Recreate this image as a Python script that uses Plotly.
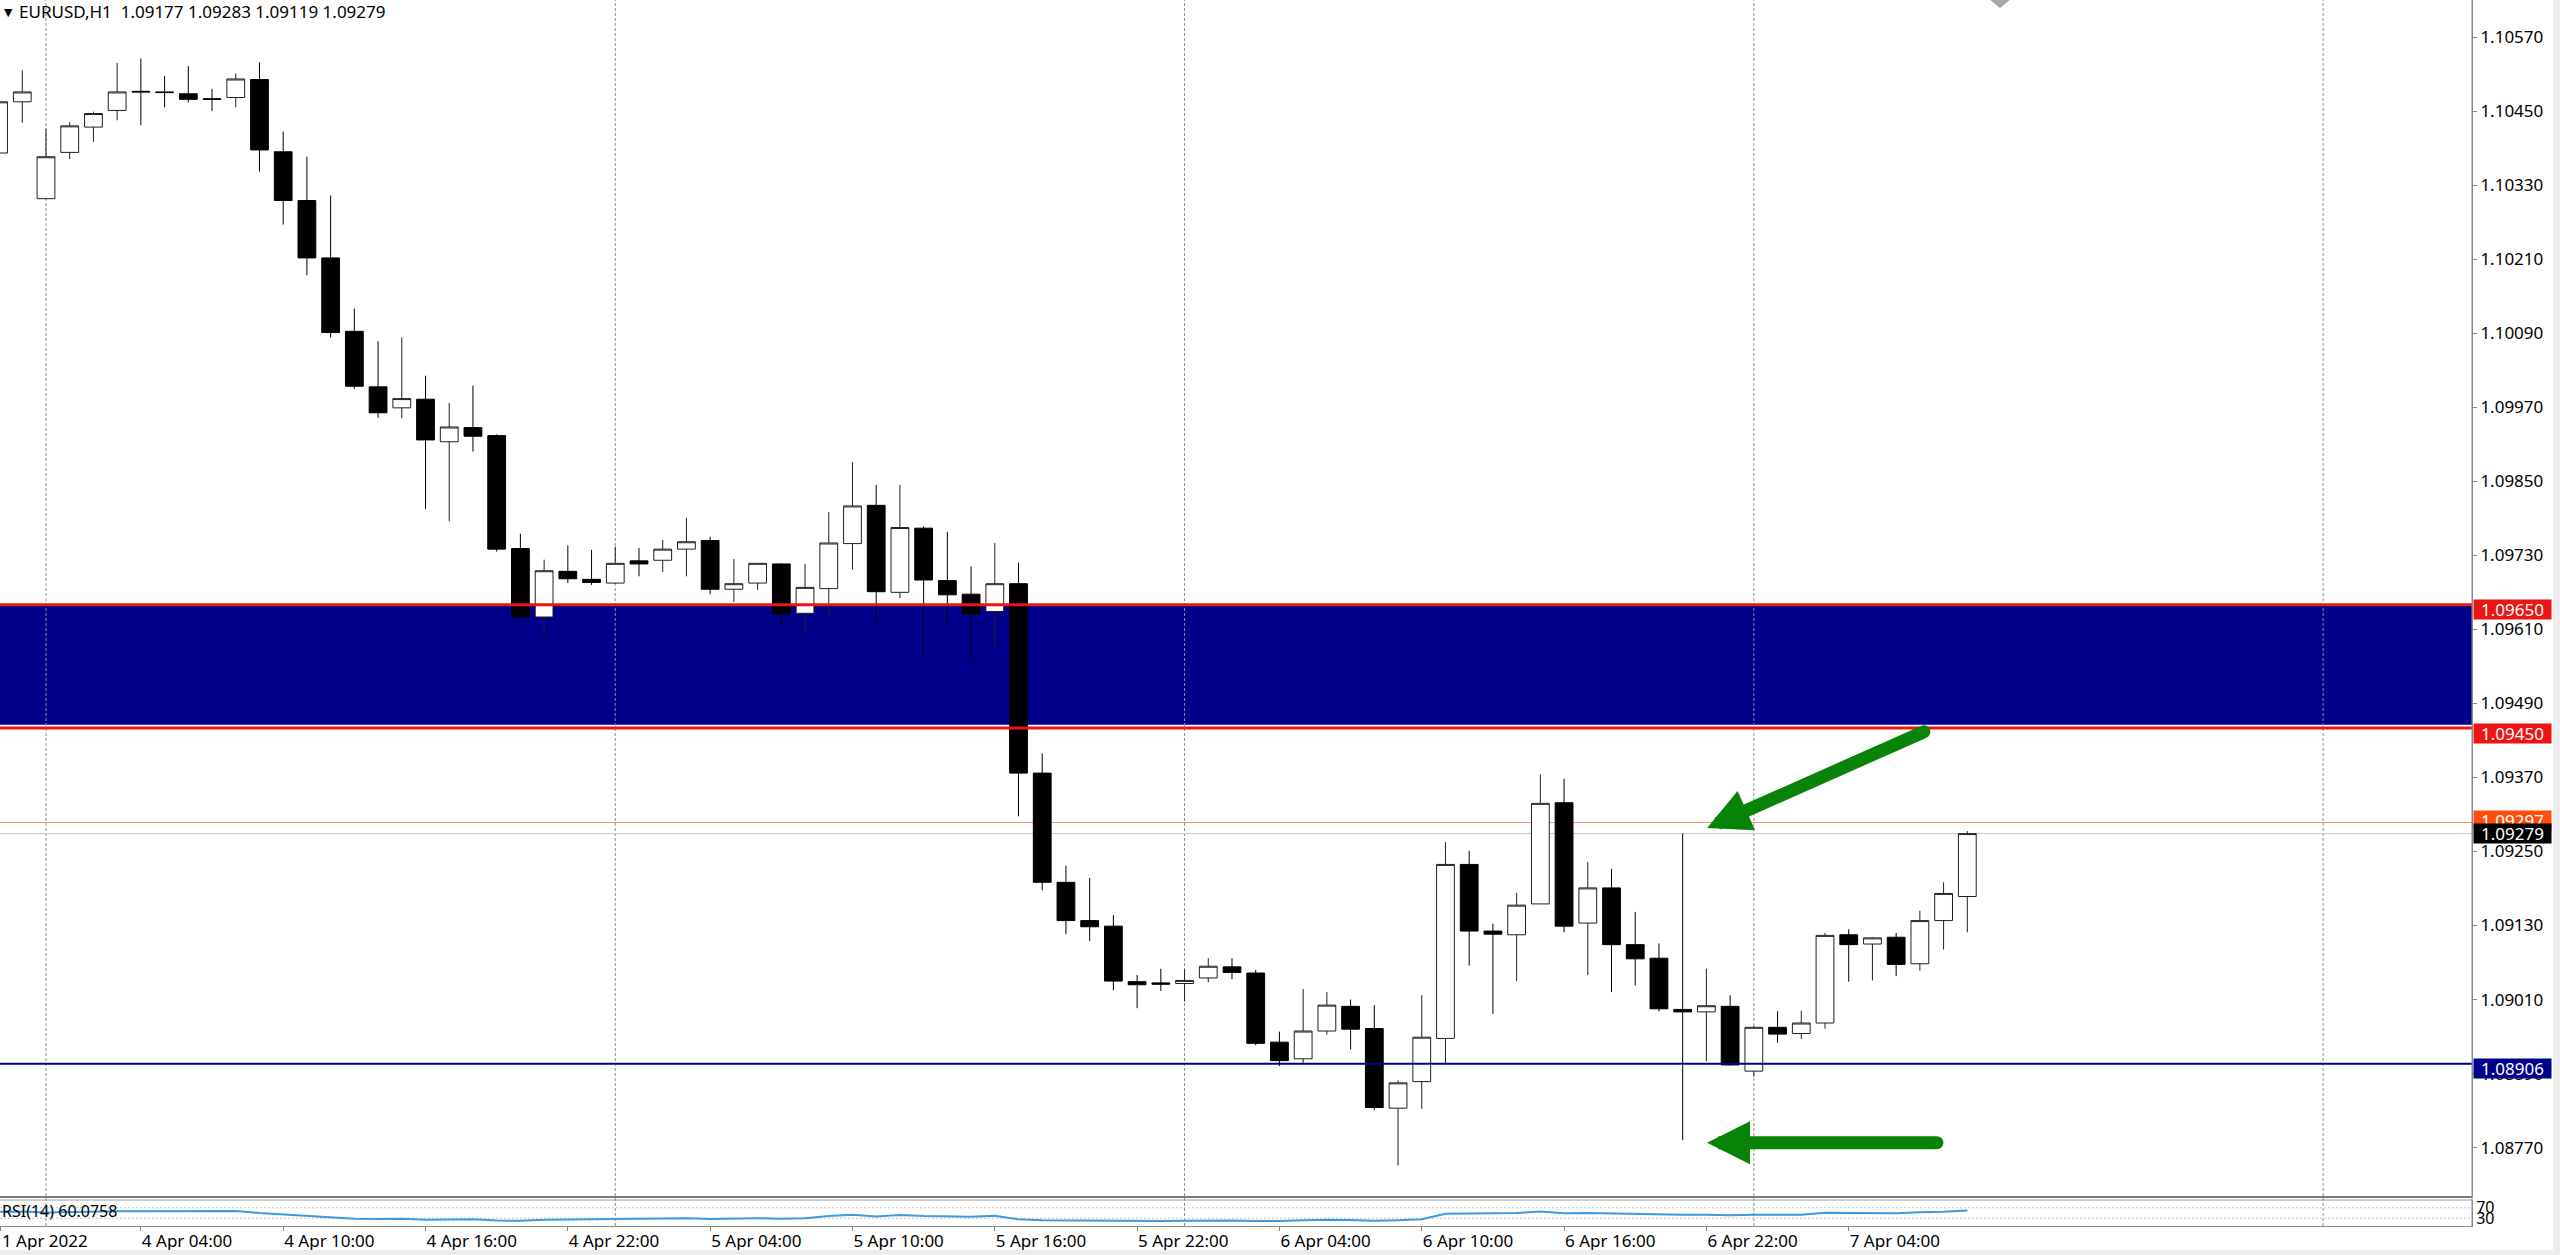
import plotly.graph_objects as go

# ---------------- data (EURUSD H1) ----------------
# bar positions are counted in hours from 4 Apr 2022 00:00 (first visible bar = -2)
first_bar = -2

opens = [1.10382, 1.10465, 1.10308, 1.10383, 1.10424, 1.10451, 1.10482, 1.10481, 1.10478, 1.10470,
         1.10472, 1.10501, 1.10384, 1.10305, 1.10212, 1.10093, 1.10003, 1.09969, 1.09983, 1.09914,
         1.09937, 1.09924, 1.09741, 1.09630, 1.09704, 1.09691, 1.09685, 1.09721, 1.09722, 1.09740,
         1.09754, 1.09675, 1.09685, 1.09716, 1.09636, 1.09676, 1.09749, 1.09811, 1.09670, 1.09774,
         1.09689, 1.09667, 1.09639, 1.09684, 1.09377, 1.09200, 1.09138, 1.09129, 1.09039, 1.09037,
         1.09036, 1.09045, 1.09063, 1.09053, 1.08941, 1.08914, 1.08959, 1.08999, 1.08963, 1.08834,
         1.08877, 1.08947, 1.09229, 1.09121, 1.09115, 1.09165, 1.09329, 1.09134, 1.09191, 1.09099,
         1.09077, 1.08994, 1.08990, 1.08999, 1.08894, 1.08965, 1.08955, 1.08972, 1.09115, 1.09100,
         1.09111, 1.09068, 1.09138, 1.09177]
highs = [1.10500, 1.10516, 1.10421, 1.10432, 1.10449, 1.10528, 1.10535, 1.10507, 1.10523, 1.10486,
         1.10511, 1.10529, 1.10417, 1.10376, 1.10313, 1.10130, 1.10077, 1.10083, 1.10021, 1.09977,
         1.10005, 1.09926, 1.09765, 1.09723, 1.09746, 1.09739, 1.09744, 1.09742, 1.09755, 1.09791,
         1.09760, 1.09724, 1.09717, 1.09717, 1.09716, 1.09800, 1.09881, 1.09844, 1.09844, 1.09777,
         1.09768, 1.09712, 1.09750, 1.09718, 1.09409, 1.09227, 1.09207, 1.09147, 1.09050, 1.09060,
         1.09059, 1.09077, 1.09077, 1.09058, 1.08958, 1.09027, 1.09022, 1.09010, 1.09001, 1.08879,
         1.09017, 1.09265, 1.09251, 1.09133, 1.09183, 1.09375, 1.09368, 1.09233, 1.09222, 1.09152,
         1.09101, 1.09279, 1.09060, 1.09017, 1.08967, 1.08991, 1.08992, 1.09118, 1.09124, 1.09111,
         1.09118, 1.09154, 1.09200, 1.09283]
lows = [1.10370, 1.10431, 1.10307, 1.10372, 1.10400, 1.10435, 1.10427, 1.10456, 1.10464, 1.10450,
        1.10456, 1.10352, 1.10266, 1.10184, 1.10083, 1.10000, 1.09953, 1.09952, 1.09805, 1.09785,
        1.09898, 1.09736, 1.09623, 1.09599, 1.09685, 1.09682, 1.09684, 1.09696, 1.09703, 1.09696,
        1.09667, 1.09654, 1.09674, 1.09615, 1.09604, 1.09631, 1.09707, 1.09620, 1.09661, 1.09561,
        1.09620, 1.09556, 1.09583, 1.09307, 1.09187, 1.09116, 1.09105, 1.09025, 1.08996, 1.09024,
        1.09007, 1.09038, 1.09043, 1.08936, 1.08902, 1.08906, 1.08953, 1.08929, 1.08831, 1.08741,
        1.08833, 1.08906, 1.09065, 1.08987, 1.09040, 1.09165, 1.09119, 1.09050, 1.09022, 1.09033,
        1.08991, 1.08782, 1.08910, 1.08903, 1.08885, 1.08940, 1.08946, 1.08963, 1.09039, 1.09041,
        1.09048, 1.09057, 1.09091, 1.09119]
closes = [1.10465, 1.10481, 1.10376, 1.10426, 1.10446, 1.10481, 1.10481, 1.10480, 1.10469, 1.10469,
          1.10502, 1.10387, 1.10305, 1.10212, 1.10091, 1.10004, 1.09961, 1.09984, 1.09917, 1.09938,
          1.09923, 1.09740, 1.09630, 1.09705, 1.09692, 1.09686, 1.09717, 1.09716, 1.09740, 1.09752,
          1.09675, 1.09684, 1.09717, 1.09635, 1.09678, 1.09750, 1.09810, 1.09671, 1.09775, 1.09690,
          1.09666, 1.09635, 1.09684, 1.09377, 1.09200, 1.09138, 1.09128, 1.09040, 1.09034, 1.09035,
          1.09041, 1.09064, 1.09054, 1.08939, 1.08911, 1.08959, 1.09001, 1.08962, 1.08835, 1.08875,
          1.08949, 1.09229, 1.09121, 1.09116, 1.09163, 1.09328, 1.09129, 1.09191, 1.09099, 1.09076,
          1.08995, 1.08990, 1.09000, 1.08904, 1.08965, 1.08954, 1.08972, 1.09114, 1.09099, 1.09110,
          1.09067, 1.09138, 1.09182, 1.09279]
rsi_values = [55, 56, 52, 54, 55, 57, 57, 57, 56, 56, 58,
              50, 44, 38, 32, 28,
              27, 28, 24, 26, 26,
              21, 20, 24,
              25, 25, 27, 28, 29, 30, 27, 28, 30, 28, 30,
              38, 43, 37, 42, 38, 37, 36, 39,
              26, 22, 21, 21, 19,
              19, 19, 20, 21, 21, 19, 19, 22, 24, 23,
              20, 22, 26,
              47, 48, 49, 50,
              56, 49,
              50, 48, 46, 43,
              43, 43, 41,
              43, 42, 43,
              51, 50, 51, 49, 53, 55, 60.08]

time_tick_pos = [-1.9, 4, 10, 16, 22, 28, 34, 40, 46, 52, 58, 64, 70, 76]
time_tick_text = ["1 Apr 2022", "4 Apr 04:00", "4 Apr 10:00", "4 Apr 16:00", "4 Apr 22:00",
                  "5 Apr 04:00", "5 Apr 10:00", "5 Apr 16:00", "5 Apr 22:00",
                  "6 Apr 04:00", "6 Apr 10:00", "6 Apr 16:00", "6 Apr 22:00", "7 Apr 04:00"]
day_separators = [0, 24, 48, 72, 96]
price_ticks = [1.08770, 1.08890, 1.09010, 1.09130, 1.09250, 1.09370, 1.09490, 1.09610,
               1.09730, 1.09850, 1.09970, 1.10090, 1.10210, 1.10330, 1.10450, 1.10570]
rsi_levels = [70, 30]
rsi_level_text = ["70", "30"]

zone_top = 1.09650
zone_bottom = 1.09450
support_level = 1.08906
ask_price = 1.09297
bid_price = 1.09279

header_text = "EURUSD,H1 \u00a01.09177 1.09283 1.09119 1.09279"
rsi_label = "RSI(14) 60.0758"

arrow_to_high = {"tip": (70.03, 1.09288), "tail": (79.17, 1.09444)}
arrow_to_low = {"tip": (70.03, 1.08778), "tail": (79.72, 1.08778)}

# ---------------- layout constants ----------------
W, H = 2560, 1255
ML, MR, MT, MB = 0, 88, 0, 29
PW, PH = W - ML - MR, H - MT - MB
MAIN_BOTTOM_PX = 1197
RSI_TOP_PX = 1200
FONT = "Noto Sans, DejaVu Sans, sans-serif"
GREEN = "#078307"
RED = "#ec1515"
NAVY = "#00008a"


def px_x(px):
    return px / PW


def px_y(py):
    return (PH - py) / PH


x_pos = [first_bar + k for k in range(len(opens))]

fig = go.Figure()
fig.add_trace(go.Candlestick(
    x=x_pos, open=opens, high=highs, low=lows, close=closes,
    xaxis="x", yaxis="y",
    increasing=dict(fillcolor="#ffffff", line=dict(color="#202020", width=1)),
    decreasing=dict(fillcolor="#000000", line=dict(color="#000000", width=1)),
    whiskerwidth=0, showlegend=False, hoverinfo="skip",
))
fig.add_trace(go.Scatter(
    x=x_pos, y=rsi_values, mode="lines", xaxis="x2", yaxis="y2",
    line=dict(color="#3d9ae2", width=2), showlegend=False, hoverinfo="skip",
))

shapes = []
# supply zone rectangle (background)
shapes.append(dict(type="rect", xref="paper", yref="y", x0=0, x1=1,
                   y0=zone_bottom + 0.000055, y1=zone_top,
                   fillcolor=NAVY, line=dict(width=0), layer="below"))
# day separators
for d in day_separators:
    shapes.append(dict(type="line", xref="x", yref="paper", x0=d, x1=d, y0=0, y1=1,
                       line=dict(color="#8c8c8c", width=1, dash="3px,2px"), layer="below"))
# ask / bid lines
shapes.append(dict(type="line", xref="paper", yref="y", x0=0, x1=1, y0=ask_price, y1=ask_price,
                   line=dict(color="#e89a78", width=1), layer="below"))
shapes.append(dict(type="line", xref="paper", yref="y", x0=0, x1=1, y0=bid_price, y1=bid_price,
                   line=dict(color="#c8c8c8", width=1), layer="below"))
# zone borders and support line
for lvl in (zone_top, zone_bottom):
    shapes.append(dict(type="line", xref="paper", yref="y", x0=0, x1=1, y0=lvl, y1=lvl,
                       line=dict(color=RED, width=3), layer="above"))
shapes.append(dict(type="line", xref="paper", yref="y", x0=0, x1=1, y0=support_level, y1=support_level,
                   line=dict(color=NAVY, width=2), layer="above"))
# RSI levels
for lvl in rsi_levels:
    shapes.append(dict(type="line", xref="paper", yref="y2", x0=0, x1=1, y0=lvl, y1=lvl,
                       line=dict(color="#c4c4c4", width=1, dash="2px,2px"), layer="below"))
# pane separator
shapes.append(dict(type="line", xref="paper", yref="paper", x0=0, x1=1,
                   y0=px_y(MAIN_BOTTOM_PX), y1=px_y(MAIN_BOTTOM_PX),
                   line=dict(color="#7a7a7a", width=2)))
shapes.append(dict(type="line", xref="paper", yref="paper", x0=0, x1=1,
                   y0=px_y(RSI_TOP_PX), y1=px_y(RSI_TOP_PX),
                   line=dict(color="#9a9a9a", width=1)))
# right price scale line (full height)
shapes.append(dict(type="line", xref="paper", yref="paper", x0=1, x1=1, y0=0, y1=1,
                   line=dict(color="#8a8a8a", width=1)))
# chart shift marker at top
shapes.append(dict(type="path", xref="paper", yref="paper",
                   path=f"M {px_x(1989)},{px_y(-1)} L {px_x(2011)},{px_y(-1)} L {px_x(2000)},{px_y(8)} Z",
                   fillcolor="#a8a8a8", line=dict(width=0)))
# window border strips
shapes.append(dict(type="rect", xref="paper", yref="paper", x0=px_x(2553), x1=px_x(2561),
                   y0=px_y(1256), y1=px_y(0), fillcolor="#ececec", line=dict(width=0)))
shapes.append(dict(type="rect", xref="paper", yref="paper", x0=0, x1=px_x(2561),
                   y0=px_y(1256), y1=px_y(1250), fillcolor="#ececec", line=dict(width=0)))
# rounded tails of the arrows
for arr in (arrow_to_high, arrow_to_low):
    tx, ty = arr["tail"]
    shapes.append(dict(type="circle", xref="x", yref="y", xsizemode="pixel", ysizemode="pixel",
                       xanchor=tx, yanchor=ty, x0=-6.5, x1=6.5, y0=-6.5, y1=6.5,
                       fillcolor=GREEN, line=dict(width=0)))

annotations = []
annotations.append(dict(xref="paper", yref="paper", x=px_x(2), y=px_y(11), xanchor="left", yanchor="middle",
                        text="\u25bc", showarrow=False, font=dict(family=FONT, size=11, color="#000000")))
annotations.append(dict(xref="paper", yref="paper", x=px_x(17), y=px_y(11), xanchor="left", yanchor="middle",
                        text=header_text, showarrow=False, font=dict(family=FONT, size=17, color="#000000")))
annotations.append(dict(xref="paper", yref="paper", x=0, y=px_y(1211), xanchor="left", yanchor="middle",
                        text=rsi_label, showarrow=False, font=dict(family=FONT, size=16, color="#000000")))

price_labels = [
    (zone_top, RED, -5),
    (zone_bottom, RED, -5),
    (support_level, NAVY, -5),
    (ask_price, "#ff4d0d", 2),
    (bid_price, "#000000", 0),
]
for val, col, shift in price_labels:
    annotations.append(dict(xref="paper", yref="y", x=1 + 1 / PW, y=val, xanchor="left", yanchor="middle",
                            yshift=shift, text=f"{val:.5f}", showarrow=False, bgcolor=col,
                            width=73, height=15, borderpad=2, align="center", valign="middle",
                            font=dict(family=FONT, size=17, color="#ffffff")))

for arr in (arrow_to_high, arrow_to_low):
    (hx, hy), (tx, ty) = arr["tip"], arr["tail"]
    annotations.append(dict(xref="x", yref="y", axref="x", ayref="y", x=hx, y=hy, ax=tx, ay=ty,
                            text="", showarrow=True, arrowhead=2, arrowsize=0.66, arrowwidth=13,
                            arrowcolor=GREEN, standoff=0, startstandoff=0))

tick_font = dict(family=FONT, size=17, color="#000000")
fig.update_layout(
    width=W, height=H,
    margin=dict(l=ML, r=MR, t=MT, b=MB, pad=0, autoexpand=False),
    paper_bgcolor="#ffffff", plot_bgcolor="#ffffff",
    hovermode=False, showlegend=False,
    boxgap=0.25, boxgroupgap=0,
    xaxis=dict(domain=[0, 1], range=[-1.939, 102.277], anchor="y", showticklabels=False,
               showgrid=False, zeroline=False, showline=False, ticks="",
               rangeslider=dict(visible=False), automargin=False),
    yaxis=dict(domain=[px_y(MAIN_BOTTOM_PX), 1], range=[1.08690, 1.10630], anchor="x", side="right",
               tickmode="array", tickvals=price_ticks, ticktext=[f"{v:.5f}" for v in price_ticks],
               ticks="outside", ticklen=4, tickcolor="#8a8a8a", showline=True, linecolor="#8a8a8a",
               linewidth=1, showgrid=False, zeroline=False, tickfont=tick_font, automargin=False),
    xaxis2=dict(domain=[0, 1], matches="x", range=[-1.939, 102.277], anchor="y2",
                tickmode="array", tickvals=time_tick_pos, ticktext=time_tick_text,
                ticklabelposition="outside right", ticks="outside", ticklen=4, tickcolor="#8a8a8a",
                showline=True, linecolor="#8a8a8a", linewidth=1, showgrid=False, zeroline=False,
                tickfont=tick_font, automargin=False),
    yaxis2=dict(domain=[0, px_y(RSI_TOP_PX)], range=[0, 100], anchor="x2", side="right",
                tickmode="array", tickvals=rsi_levels, ticktext=rsi_level_text, ticks="",
                showline=True, linecolor="#8a8a8a", showgrid=False, zeroline=False,
                tickfont=dict(family=FONT, size=16, color="#000000"), automargin=False),
    shapes=shapes,
    annotations=annotations,
)

fig.write_html(
    "out.html",
    config={"displayModeBar": False},
    post_script="document.body.style.margin='0px'; document.body.style.overflow='hidden';",
)
